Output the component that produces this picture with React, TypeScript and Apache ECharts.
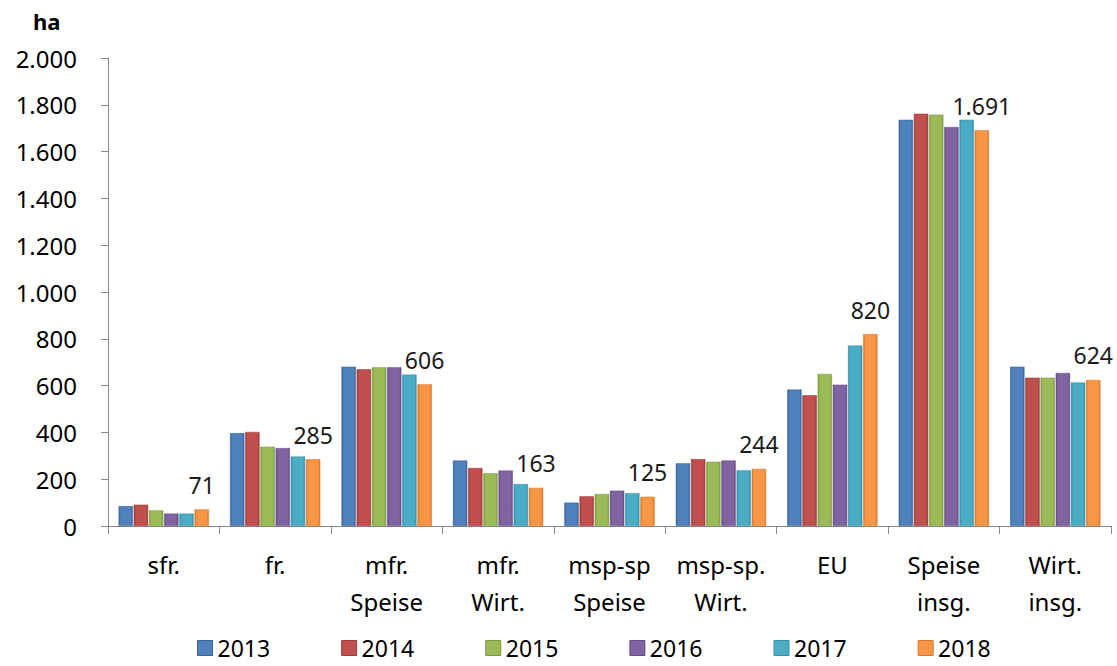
import React, { useEffect, useRef } from "react";
import * as echarts from "echarts";

const categories = [
  "sfr.",
  "fr.",
  "mfr.\nSpeise",
  "mfr.\nWirt.",
  "msp-sp\nSpeise",
  "msp-sp.\nWirt.",
  "EU",
  "Speise\ninsg.",
  "Wirt.\ninsg.",
];

const years = ["2013", "2014", "2015", "2016", "2017", "2018"];

const v2013 = [85, 397, 681, 280, 100, 268, 583, 1736, 681];
const v2014 = [91, 402, 670, 248, 127, 286, 559, 1762, 634];
const v2015 = [67, 339, 678, 226, 137, 275, 650, 1758, 634];
const v2016 = [53, 333, 678, 237, 151, 280, 604, 1705, 654];
const v2017 = [53, 297, 647, 179, 140, 238, 771, 1736, 613];
const v2018 = [71, 285, 606, 163, 125, 244, 820, 1691, 624];

const seriesValues = [v2013, v2014, v2015, v2016, v2017, v2018];

const colors = ["#4F81BD", "#C0504D", "#9BBB59", "#8064A2", "#4BACC6", "#F79646"];
const edgeColors = ["#3A6599", "#9E3B38", "#7C9A42", "#644C84", "#3590A8", "#D9762A"];

const yTicks = { min: 0, max: 2000, interval: 200 };

const FONT = "'Noto Sans', 'Open Sans', sans-serif";

function fmtDe(v: number): string {
  return String(Math.round(v)).replace(/\B(?=(\d{3})+(?!\d))/g, ".");
}

export default function App() {
  const ref = useRef<HTMLDivElement>(null);

  useEffect(() => {
    if (!ref.current) return;
    const chart = echarts.init(ref.current, undefined, { renderer: "svg" });

    const series = years.map((y, i) => ({
      name: y,
      type: "bar",
      data: seriesValues[i],
      barGap: "6%",
      barCategoryGap: "19%",
      itemStyle: {
        color: new echarts.graphic.LinearGradient(0, 0, 1, 0, [
          { offset: 0, color: edgeColors[i] },
          { offset: 0.15, color: colors[i] },
          { offset: 0.85, color: colors[i] },
          { offset: 1, color: edgeColors[i] },
        ]),
        borderColor: edgeColors[i],
        borderWidth: 0.5,
      },
      label:
        i === years.length - 1
          ? {
              show: true,
              position: "top",
              distance: 13,
              color: "#1a1a1a",
              fontFamily: FONT,
              fontSize: 23,
              formatter: (p: any) => fmtDe(p.value),
            }
          : { show: false },
    }));

    chart.setOption({
      animation: false,
      backgroundColor: "#ffffff",
      color: colors,
      textStyle: { fontFamily: FONT },
      title: {
        text: "ha",
        left: 28,
        top: 5,
        textStyle: { fontFamily: FONT, fontSize: 22, fontWeight: "bold", color: "#000" },
      },
      grid: { left: 108, right: 6, top: 58, bottom: 140, containLabel: false },
      legend: {
        data: years.map((y, i) => ({
          name: y,
          itemStyle: { color: colors[i], borderColor: edgeColors[i], borderWidth: 1 },
        })),
        top: 636,
        left: 197,
        padding: 0,
        icon: "rect",
        itemWidth: 15,
        itemHeight: 15,
        itemGap: 71,
        textStyle: { fontFamily: FONT, fontSize: 23, lineHeight: 24, color: "#000" },
      },
      xAxis: {
        type: "category",
        data: categories,
        axisLine: { lineStyle: { color: "#868686", width: 1 } },
        axisTick: { show: true, length: 8, alignWithLabel: false, lineStyle: { color: "#868686" } },
        axisLabel: {
          fontFamily: FONT,
          fontSize: 24,
          color: "#000",
          margin: 20,
          lineHeight: 37,
          interval: 0,
        },
        splitLine: { show: false },
      },
      yAxis: {
        type: "value",
        min: yTicks.min,
        max: yTicks.max,
        interval: yTicks.interval,
        axisLine: { show: true, lineStyle: { color: "#868686", width: 1 } },
        axisTick: { show: true, length: 7, lineStyle: { color: "#868686" } },
        axisLabel: {
          fontFamily: FONT,
          fontSize: 24,
          color: "#000",
          margin: 31,
          formatter: (v: number) => fmtDe(v),
        },
        splitLine: { show: false },
      },
      series,
    });

    return () => chart.dispose();
  }, []);

  return (
    <div
      ref={ref}
      style={{ position: "fixed", left: 0, top: 0, width: 1117, height: 666 }}
    />
  );
}
